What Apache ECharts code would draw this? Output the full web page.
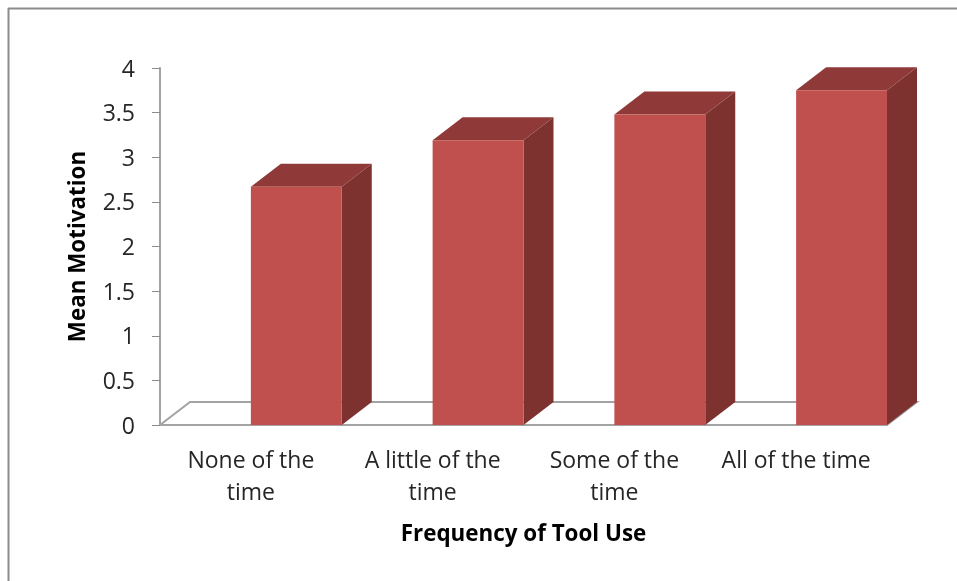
<!DOCTYPE html>
<html>
<head>
<meta charset="utf-8">
<style>html,body{margin:0;padding:0;background:#fff}#c{width:957px;height:581px}</style>
<script src="https://cdn.jsdelivr.net/npm/echarts@6/dist/echarts.min.js"></script>
</head>
<body>
<div id="c"></div>
<script>
var categories = ['None of the\ntime', 'A little of the\ntime', 'Some of the\ntime', 'All of the time'];
var meanMotivation = [2.67, 3.19, 3.48, 3.75];
var yTicks = { min: 0, max: 4, interval: 0.5 };
var xTitle = 'Frequency of Tool Use';
var yTitle = 'Mean Motivation';

var DX = 30, DY = -23;
var FONT = '"Open Sans", sans-serif';
var chart = echarts.init(document.getElementById('c'), null, { renderer: 'canvas' });

function poly(pts, color) {
  return { type: 'polygon', shape: { points: pts }, style: { fill: color, stroke: null } };
}

chart.setOption({
  animation: false,
  backgroundColor: '#fff',
  graphic: [
    { type: 'line', shape: { x1: 8, y1: 8.5, x2: 957, y2: 8.5 }, style: { stroke: '#8c8c8c', lineWidth: 2 } },
    { type: 'line', shape: { x1: 8.5, y1: 8, x2: 8.5, y2: 581 }, style: { stroke: '#8c8c8c', lineWidth: 2 } }
  ],
  grid: { left: 160, right: 70, top: 68, bottom: 156 },
  xAxis: {
    type: 'category', data: categories, boundaryGap: true,
    axisLine: { lineStyle: { color: '#a3a3a3', width: 2 } },
    axisTick: { show: false },
    axisLabel: { color: '#262626', fontFamily: FONT, fontSize: 23, lineHeight: 32, margin: 20, interval: 0 },
    name: xTitle, nameLocation: 'middle', nameGap: 99,
    nameTextStyle: { color: '#000', fontFamily: FONT, fontSize: 22.4, fontWeight: 'bold' }
  },
  yAxis: {
    type: 'value', min: yTicks.min, max: yTicks.max, interval: yTicks.interval,
    axisLine: { show: true, lineStyle: { color: '#a3a3a3', width: 2 } },
    axisTick: { show: true, length: 8, lineStyle: { color: '#8c8c8c', width: 1 } },
    axisLabel: { color: '#262626', fontFamily: FONT, fontSize: 23, margin: 25, verticalAlign: 'top', lineHeight: 4 },
    splitLine: { show: false },
    name: yTitle, nameLocation: 'middle', nameGap: 70,
    nameTextStyle: { color: '#000', fontFamily: FONT, fontSize: 22.4, fontWeight: 'bold' }
  },
  series: [
    {
      type: 'custom', silent: true, z: 1,
      coordinateSystem: 'cartesian2d',
      data: [[0, 0]],
      renderItem: function (params, api) {
        var y = api.coord([0, 0])[1];
        var left = params.coordSys.x, right = left + params.coordSys.width;
        return {
          type: 'polyline',
          shape: { points: [[left, y], [left + DX, y + DY], [right + DX, y + DY], [right, y]] },
          style: { stroke: '#a3a3a3', lineWidth: 2, fill: null }
        };
      }
    },
    {
      type: 'custom', silent: true, z: 2,
      coordinateSystem: 'cartesian2d',
      encode: { x: 0, y: 1 },
      data: meanMotivation.map(function (v, i) { return [i, v]; }),
      renderItem: function (params, api) {
        var i = api.value(0), v = api.value(1);
        var c = api.coord([i, v]);
        var base = api.coord([i, 0]);
        var w = api.size([1, 0])[0] / 2;
        var x0 = c[0], x1 = c[0] + w, yt = c[1], yb = base[1];
        return {
          type: 'group',
          children: [
            poly([[x1, yt], [x1 + DX, yt + DY], [x1 + DX, yb + DY], [x1, yb]], '#7d3230'),
            poly([[x0, yt], [x0 + DX, yt + DY], [x1 + DX, yt + DY], [x1, yt]], '#8f3a38'),
            poly([[x0, yt], [x1, yt], [x1, yb], [x0, yb]], '#c0504d')
          ]
        };
      }
    }
  ]
});
</script>
</body>
</html>
